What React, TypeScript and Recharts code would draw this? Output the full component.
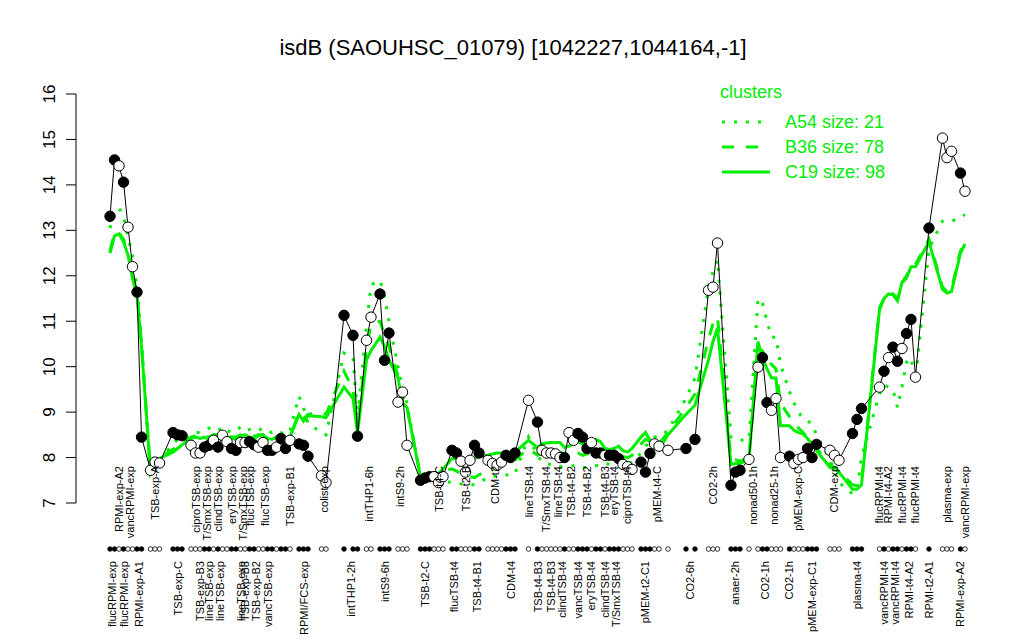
import React from 'react';
import { LineChart, Line, XAxis, YAxis } from 'recharts';

// sample positions (index along the x axis, gaps between experiments)
const slots = [
  0, 1, 2, 3, 4, 5, 6, 7, 9, 10,
  11, 14, 15, 16, 18, 19, 20, 21, 22, 23,
  24, 25, 26, 27, 28, 29, 30, 31, 32, 33,
  34, 35, 36, 37, 38, 39, 40, 42, 43, 44,
  47, 48, 52, 54, 55, 57, 58, 60, 61, 62,
  64, 65, 66, 69, 70, 71, 72, 73, 74, 76,
  77, 78, 79, 80, 81, 82, 84, 85, 86, 87,
  88, 89, 90, 93, 95, 96, 97, 98, 99, 100,
  101, 102, 103, 104, 105, 106, 107, 108, 109, 110,
  111, 112, 113, 114, 115, 116, 118, 119, 120, 121,
  122, 124, 128, 130, 133, 134, 135, 138, 139, 140,
  142, 144, 145, 146, 147, 148, 149, 151, 152, 153,
  154, 155, 156, 157, 160, 161, 162, 165, 166, 167,
  171, 172, 173, 174, 175, 176, 177, 178, 179, 182,
  185, 186, 187, 189, 190,
];

// isdB expression per sample
const expr = [
  13.31, 14.55, 14.42, 14.06, 13.07, 12.2, 11.64, 8.45, 7.72, 7.9,
  7.88, 8.55, 8.5, 8.48, 8.27, 8.1, 8.1, 8.23, 8.27, 8.38,
  8.23, 8.49, 8.35, 8.2, 8.16, 8.33, 8.33, 8.35, 8.28, 8.23,
  8.33, 8.16, 8.16, 8.23, 8.42, 8.2, 8.38, 8.3, 8.27, 8.03,
  7.6, 7.45, 11.13, 10.69, 8.47, 10.58, 11.09, 11.6, 10.14, 10.74,
  9.22, 9.44, 8.27, 7.5, 7.55, 7.58, 7.58, 7.45, 7.58, 8.16,
  8.1, 7.92, 7.68, 7.94, 8.27, 8.1, 7.94, 7.87, 7.83, 7.9,
  8.05, 8.0, 8.1, 9.26, 8.78, 8.16, 8.1, 8.1, 8.08, 8.0,
  8.0, 8.55, 8.38, 8.53, 8.45, 8.2, 8.33, 8.1, 8.1, 8.05,
  8.05, 8.05, 7.98, 7.85, 7.8, 7.74, 7.9, 7.68, 8.09, 8.3,
  8.25, 8.16, 8.2, 8.4, 11.68, 11.75, 12.72, 7.39, 7.68, 7.72,
  7.96, 9.99, 10.2, 9.21, 9.04, 9.3, 8.0, 8.03, 7.87, 7.96,
  8.0, 8.2, 8.0, 8.29, 8.16, 8.05, 7.94, 8.53, 8.84, 9.08,
  9.55, 9.9, 10.2, 10.43, 10.12, 10.4, 10.73, 11.04, 9.77, 13.05,
  15.03, 14.6, 14.74, 14.26, 13.86,
];

// 1 = filled marker, 0 = open marker (alternating condition groups)
const filled = [
  1, 1, 0, 1, 0, 0, 1, 1, 0, 0,
  0, 1, 1, 1, 0, 0, 0, 1, 1, 0,
  1, 0, 0, 1, 1, 0, 0, 1, 1, 0,
  0, 1, 1, 0, 1, 1, 0, 1, 1, 1,
  0, 0, 1, 1, 1, 0, 0, 1, 1, 1,
  0, 0, 0, 1, 1, 1, 0, 0, 0, 1,
  1, 0, 0, 0, 1, 1, 0, 0, 0, 0,
  1, 1, 1, 0, 1, 0, 0, 0, 0, 0,
  1, 0, 0, 1, 1, 1, 0, 1, 1, 0,
  1, 1, 1, 0, 0, 0, 1, 1, 1, 0,
  0, 0, 1, 1, 0, 0, 0, 1, 1, 1,
  0, 0, 1, 1, 0, 0, 0, 1, 0, 0,
  0, 1, 1, 1, 0, 0, 0, 1, 1, 1,
  0, 1, 0, 1, 1, 0, 1, 1, 0, 1,
  0, 0, 0, 1, 0,
];

// cluster mean profiles
const clusterC19 = [
  12.5, 12.88, 12.92, 12.75, 12.45, 11.95, 11.55, 10.45, 7.65, 7.85,
  7.98, 8.12, 8.2, 8.28, 8.42, 8.45, 8.42, 8.45, 8.4, 8.5,
  8.48, 8.52, 8.45, 8.42, 8.4, 8.48, 8.5, 8.45, 8.42, 8.48,
  8.5, 8.42, 8.4, 8.45, 8.45, 8.38, 8.45, 8.95, 8.8, 8.92,
  8.9, 8.88, 9.55, 9.3, 8.55, 10.15, 10.35, 10.65, 10.45, 10.15,
  9.75, 9.2, 9.1, 7.56, 7.6, 7.62, 7.62, 7.65, 7.75, 7.98,
  7.98, 7.95, 7.95, 7.98, 7.98, 8.02, 8.05, 8.08, 8.1, 8.1,
  8.1, 8.08, 8.12, 8.38, 8.22, 8.3, 8.32, 8.33, 8.33, 8.33,
  8.22, 8.25, 8.3, 8.35, 8.3, 8.3, 8.25, 8.4, 8.35, 8.2,
  8.18, 8.2, 8.25, 8.15, 8.12, 8.2, 8.45, 8.55, 8.38, 8.3,
  8.18, 8.5, 8.95, 9.15, 10.15, 10.55, 10.85, 7.85, 7.87, 7.87,
  7.95, 10.55, 10.2, 9.95, 9.75, 9.75, 8.7, 8.7, 8.6, 8.55,
  8.52, 8.42, 8.3, 8.15, 7.78, 7.75, 7.68, 7.3, 7.3, 7.4,
  11.25, 11.5, 11.6, 11.58, 11.45, 11.85, 11.95, 12.2, 12.2, 12.75,
  11.7, 11.62, 11.65, 12.5, 12.7,
];

const clusterB36 = [
  12.55, 12.95, 12.95, 12.8, 12.5, 12.05, 11.6, 10.5, 7.7, 7.9,
  8.0, 8.18, 8.25, 8.32, 8.45, 8.48, 8.45, 8.48, 8.45, 8.5,
  8.5, 8.52, 8.5, 8.45, 8.45, 8.5, 8.5, 8.48, 8.47, 8.5,
  8.5, 8.45, 8.45, 8.47, 8.45, 8.42, 8.45, 9.0, 8.85, 8.95,
  9.0, 8.95, 9.9, 9.5, 8.7, 10.4, 10.95, 11.0, 10.7, 10.45,
  9.8, 9.35, 9.1, 7.6, 7.62, 7.62, 7.62, 7.62, 7.7, 7.75,
  7.7, 7.65, 7.6, 7.58, 7.56, 7.62, 7.72, 7.75, 7.75, 7.8,
  7.85, 7.88, 7.95, 8.2, 8.05, 8.1, 8.12, 8.1, 8.15, 8.12,
  8.08, 8.1, 8.1, 8.1, 8.05, 8.08, 8.1, 8.15, 8.1, 8.05,
  8.05, 8.05, 8.08, 8.02, 8.0, 8.05, 8.3, 8.4, 8.35, 8.35,
  8.3, 8.55, 9.1, 9.4, 10.6, 10.95, 11.1, 7.95, 7.95, 7.92,
  8.0, 10.4, 10.35, 10.15, 10.05, 9.95, 9.2, 8.9, 8.8, 8.65,
  8.55, 8.45, 8.35, 8.2, 7.85, 7.78, 7.7, 7.4, 7.38, 7.45,
  11.3, 11.5, 11.65, 11.6, 11.5, 11.85, 12.0, 12.2, 12.25, 12.8,
  11.75, 11.65, 11.7, 12.55, 12.7,
];

const clusterA54 = [
  13.05, 13.4, 13.5, 13.3, 12.85, 12.45, 11.75, 10.55, 7.6, 7.75,
  7.95, 8.3, 8.4, 8.45, 8.5, 8.55, 8.55, 8.6, 8.65, 8.62,
  8.58, 8.68, 8.6, 8.55, 8.58, 8.68, 8.6, 8.62, 8.65, 8.6,
  8.65, 8.58, 8.55, 8.6, 8.55, 8.5, 8.6, 9.35, 9.1, 8.75,
  8.55, 8.5, 10.3, 10.2, 8.9, 10.9, 11.8, 11.9, 11.55, 11.0,
  10.0, 9.5, 9.2, 7.55, 7.58, 7.6, 7.55, 7.5, 7.48, 7.45,
  7.45, 7.42, 7.4, 7.4, 7.4, 7.45, 7.56, 7.58, 7.6, 7.62,
  7.62, 7.6, 7.65, 8.45, 8.05, 7.9, 7.85, 7.85, 7.8, 7.8,
  7.8, 7.8, 7.82, 7.8, 7.78, 7.78, 7.8, 7.82, 7.85, 7.88,
  7.85, 7.82, 7.8, 7.8, 7.85, 7.9, 8.1, 8.25, 8.35, 8.45,
  8.45, 8.6, 9.3, 9.75, 11.75, 12.1, 12.35, 8.45, 8.4, 8.38,
  8.4, 11.5, 11.4, 11.0, 10.65, 10.65, 10.05, 9.45, 9.2, 9.0,
  8.85, 8.8, 8.75, 8.5, 7.95, 7.7, 7.45, 7.2, 7.3, 8.0,
  9.4, 9.6, 9.55, 9.5, 9.1, 9.55, 10.1, 10.2, 9.7, 12.6,
  13.2, 13.22, 13.2, 13.28, 13.35,
];

// condition labels drawn inside the plot (open groups)
const upperLabels = [
  'RPMI-exp-A2', 'vancRPMI-exp', 'TSB-exp-A', 'ciproTSB-exp', 'T/SmxTSB-exp',
  'clindTSB-exp', 'eryTSB-exp', 'T/SmxTSB-exp', 'flucTSB-exp', 'flucTSB-exp',
  'TSB-exp-B1', 'colist-exp', 'intTHP1-6h', 'intS9-2h', 'TSB-t4-C',
  'TSB-t2-B', 'CDM-t2', 'lineTSB-t4', 'T/SmxTSB-t4', 'lineTSB-t4',
  'TSB-t4-B2', 'TSB-t4-B2', 'TSB-t4-B3', 'eryTSB-t4', 'ciproTSB-t4',
  'pMEM-t4-C', 'CO2-2h', 'nonad50-1h', 'nonad25-1h', 'pMEM-exp-C',
  'CDM-exp', 'flucRPMI-t4', 'RPMI-t4-A2', 'flucRPMI-t4', 'flucRPMI-t4',
  'plasma-exp', 'vancRPMI-exp',
];
const upperPos = [
  2, 4.5, 10, 19, 21.5,
  24, 27, 29.5, 31, 34.5,
  40, 47.5, 57.5, 64.5, 73,
  79, 85.5, 93, 97, 99.5,
  102.5, 106, 110, 112, 115,
  121.5, 134, 143, 147.5, 153,
  161, 171, 173, 176, 179,
  186, 190,
];

// condition labels drawn below the axis (filled groups)
const lowerLabels = [
  'flucRPMI-exp', 'flucRPMI-exp', 'RPMI-exp-A1', 'TSB-exp-C', 'TSB-exp-B3',
  'lineTSB-exp', 'lineTSB-exp', 'lineTSB-exp', 'TSB-exp-B3', 'TSB-exp-B2',
  'vancTSB-exp', 'RPMI/FCS-exp', 'intTHP1-2h', 'intS9-6h', 'TSB-t2-C',
  'flucTSB-t4', 'TSB-t4-B1', 'CDM-t4', 'TSB-t4-B3', 'TSB-t4-B3',
  'clindTSB-t4', 'vancTSB-t4', 'eryTSB-t4', 'clindTSB-t4', 'T/SmxTSB-t4',
  'pMEM-t2-C1', 'CO2-6h', 'anaer-2h', 'CO2-1h', 'CO2-1h',
  'pMEM-exp-C1', 'plasma-t4', 'vancRPMI-t4', 'vancRPMI-t4', 'RPMI-t4-A2',
  'RPMI-t2-A1', 'RPMI-exp-A2',
];
const lowerPos = [
  0.5, 3, 6.5, 15, 20,
  22, 24.5, 29, 30, 32.5,
  35, 43, 53.5, 61, 70,
  76.5, 81.5, 89, 95, 98,
  100.5, 104, 107, 110, 112.5,
  119, 129, 139, 145.5, 151,
  156, 166, 172, 174.5, 177.5,
  182, 189,
];

const yTicks = [7, 8, 9, 10, 11, 12, 13, 14, 15, 16];
const clusterNames = ['A54', 'B36', 'C19'];
const clusterSizes = [21, 78, 98];
const clusterDash = ['3 9', '12 12', undefined];

const GREEN = '#00ee00';
const FONT = '"Liberation Sans", Arial, Helvetica, sans-serif';
const MARKER_Y = 549;
const UPPER_TOP = 466;
const LOWER_TOP = 561;

const data = slots.map((pos, i) => ({
  pos,
  expr: expr[i],
  filled: filled[i],
  c19: clusterC19[i],
  b36: clusterB36[i],
  a54: clusterA54[i],
}));

const xTicks = Array.from(new Set([...slots, ...upperPos, ...lowerPos])).sort((a, b) => a - b);

const SampleTick = (props: any) => {
  const { x, payload } = props;
  const v = payload.value;
  const si = slots.indexOf(v);
  const texts: React.ReactNode[] = [];
  upperPos.forEach((p, i) => {
    if (p === v) {
      texts.push(
        <text key={`u${i}`} x={x} y={UPPER_TOP} transform={`rotate(-90, ${x}, ${UPPER_TOP})`}
          textAnchor="end" dominantBaseline="central" fontSize={11} fill="#000" fontFamily={FONT}>
          {upperLabels[i]}
        </text>
      );
    }
  });
  lowerPos.forEach((p, i) => {
    if (p === v) {
      texts.push(
        <text key={`l${i}`} x={x} y={LOWER_TOP} transform={`rotate(-90, ${x}, ${LOWER_TOP})`}
          textAnchor="end" dominantBaseline="central" fontSize={11} fill="#000" fontFamily={FONT}>
          {lowerLabels[i]}
        </text>
      );
    }
  });
  return (
    <g>
      {si >= 0 && (
        <circle cx={x} cy={MARKER_Y} r={2.3} fill={filled[si] ? '#000' : '#fff'} stroke="#000" strokeWidth={0.8} />
      )}
      {texts}
    </g>
  );
};

const YTick = (props: any) => {
  const { y, payload } = props;
  const bx = 55;
  return (
    <text x={bx} y={y} transform={`rotate(-90, ${bx}, ${y})`} textAnchor="middle"
      fontSize={17} fill="#000" fontFamily={FONT}>
      {payload.value}
    </text>
  );
};

const renderDot = (props: any) => {
  const { cx, cy, payload, index } = props;
  return (
    <circle key={`pt${index}`} cx={cx} cy={cy} r={5.2}
      fill={payload.filled ? '#000' : '#fff'} stroke="#000" strokeWidth={1} />
  );
};

export default function App() {
  return (
    <div style={{ position: 'absolute', left: 0, top: 0, width: 1024, height: 640, background: '#fff' }}>
      <LineChart width={1024} height={640} data={data}
        margin={{ top: 94, right: 25, left: 10, bottom: 37 }}>
        <XAxis type="number" dataKey="pos" domain={[-7.56, 197.56]} allowDataOverflow
          ticks={xTicks} interval={0} tick={(p: any) => <SampleTick {...p} />}
          axisLine={false} tickLine={false} height={100} />
        <YAxis type="number" domain={[7, 16]} allowDataOverflow ticks={yTicks} interval={0}
          width={66} tickSize={10} tick={(p: any) => <YTick {...p} />}
          axisLine={{ stroke: '#000' }} tickLine={{ stroke: '#000' }} />
        <Line type="linear" dataKey="a54" stroke={GREEN} strokeWidth={3} strokeDasharray="3 9"
          dot={false} activeDot={false} isAnimationActive={false} />
        <Line type="linear" dataKey="b36" stroke={GREEN} strokeWidth={3} strokeDasharray="12 12"
          dot={false} activeDot={false} isAnimationActive={false} />
        <Line type="linear" dataKey="c19" stroke={GREEN} strokeWidth={3}
          dot={false} activeDot={false} isAnimationActive={false} />
        <Line type="linear" dataKey="expr" stroke="#000" strokeWidth={1}
          dot={renderDot} activeDot={false} isAnimationActive={false} />
      </LineChart>
      <svg width={1024} height={640} style={{ position: 'absolute', left: 0, top: 0, pointerEvents: 'none' }}>
        <text x={513} y={55} textAnchor="middle" fontSize={22} fontFamily={FONT} fill="#000">
          isdB (SAOUHSC_01079) [1042227,1044164,-1]
        </text>
        <text x={720} y={98} fontSize={18} fontFamily={FONT} fill={GREEN}>clusters</text>
        {clusterNames.map((n, i) => (
          <g key={n}>
            <line x1={722} x2={770} y1={122 + i * 25} y2={122 + i * 25} stroke={GREEN}
              strokeWidth={3} strokeDasharray={clusterDash[i]} />
            <text x={785} y={128 + i * 25} fontSize={18} fontFamily={FONT} fill={GREEN}>
              {`${n} size: ${clusterSizes[i]}`}
            </text>
          </g>
        ))}
      </svg>
    </div>
  );
}
